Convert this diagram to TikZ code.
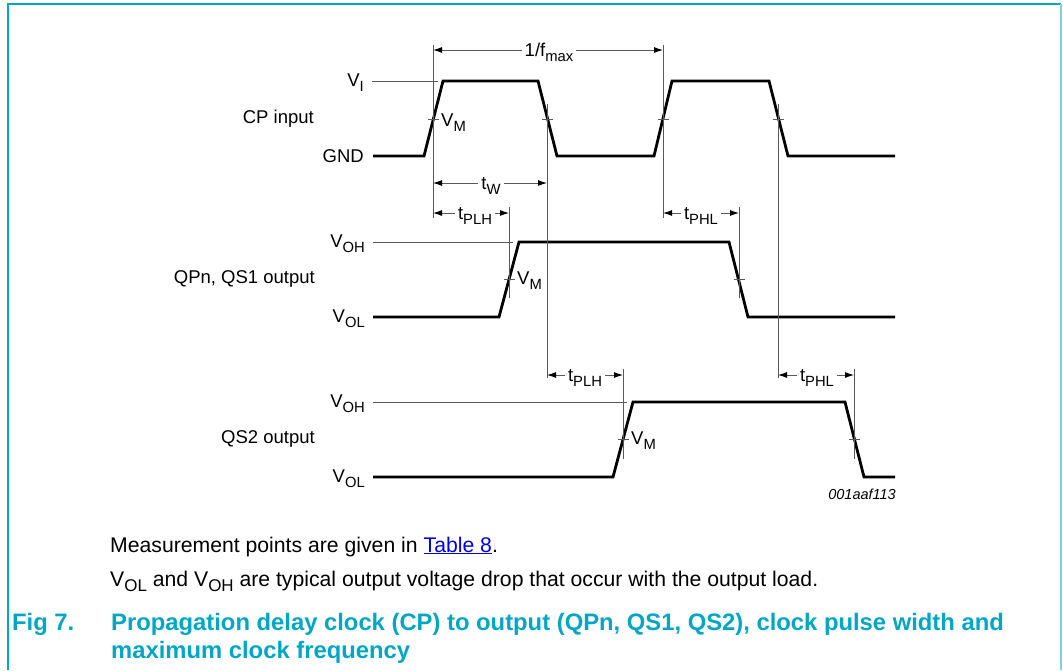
\documentclass[tikz,border=0pt]{standalone}
\usepackage{fontspec}
\setmainfont{Liberation Sans}
\usetikzlibrary{arrows.meta}
\definecolor{nxp}{RGB}{0,166,196}
\definecolor{nxplight}{RGB}{128,208,224}
\definecolor{refgray}{gray}{0.35}
\definecolor{linkblue}{RGB}{0,0,230}
\newcommand\sbs[1]{\raisebox{-0.24em}{\scalebox{0.8}{#1}}}
\begin{document}
\begin{tikzpicture}[x=1pt,y=-1pt,
  wave/.style={line width=2.8pt, line join=miter},
  refline/.style={refgray, line width=0.9pt},
  lbl/.style={font=\fontsize{18.5}{22}\selectfont, inner sep=0pt, text height=13.3pt, text depth=0pt},
  dl/.style={lbl, inner xsep=3pt},
  dimarrow/.style={refgray, line width=0.9pt, -{Latex[length=9pt,width=6pt,color=black]}},
  bodytext/.style={font=\fontsize{21.2}{25}\selectfont, inner sep=0pt, anchor=base west},
  captext/.style={font=\fontsize{23.8}{28}\selectfont\bfseries, text=nxp, inner sep=0pt, anchor=base west},
]
\useasboundingbox (0,0) rectangle (1063,670);
% frame
\draw[nxp, line width=2pt] (8,670) -- (8,4) -- (1061,4);
\draw[nxplight, line width=2pt] (1061,4) -- (1061,670);

% waveforms
\draw[wave] (373,156) -- (424,156) -- (443,81) -- (538,81) -- (557,156) -- (654,156) -- (672,81) -- (769,81) -- (788,156) -- (895,156);
\draw[wave] (373,317) -- (499,317) -- (519,242) -- (729,242) -- (748,317) -- (895,317);
\draw[wave] (373,477) -- (613,477) -- (633,402) -- (845,402) -- (864,477) -- (895,477);

% reference levels
\draw[refline] (372,81) -- (438,81);
\draw[refline] (373,242) -- (513,242);
\draw[refline] (373,402) -- (627,402);

% vertical bars
\draw[refline] (433,45) -- (433,218);
\draw[refline] (547,104) -- (547,378);
\draw[refline] (663,45) -- (663,218);
\draw[refline] (778,104) -- (778,378);
\draw[refline] (509,207) -- (509,298);
\draw[refline] (739,207) -- (739,298);
\draw[refline] (623,369) -- (623,459);
\draw[refline] (854,369) -- (854,459);

% VM ticks
\foreach \x/\y in {433/119,547/119,663/119,778/119,509/279,739/279,623/439,854/439}
  \draw[refline] (\x-5.5,\y) -- (\x+5.5,\y);

% dimension end points
\coordinate (fL) at (433,50);  \coordinate (fR) at (663,50);
\coordinate (wL) at (433,183); \coordinate (wR) at (547,183);
\coordinate (p1L) at (433,213); \coordinate (p1R) at (509,213);
\coordinate (h1L) at (663,213); \coordinate (h1R) at (739,213);
\coordinate (p2L) at (547,375); \coordinate (p2R) at (623,375);
\coordinate (h2L) at (778,375); \coordinate (h2R) at (854,375);

\node[dl] (fmax) at (549,50) {1/f\sbs{max}};
\node[dl] (tw) at (491,183) {t\sbs{W}};
\node[dl] (tplh1) at (475,213) {t\sbs{PLH}};
\node[dl] (tphl1) at (701,213) {t\sbs{PHL}};
\node[dl] (tplh2) at (585,375) {t\sbs{PLH}};
\node[dl] (tphl2) at (817,375) {t\sbs{PHL}};

\foreach \n/\l/\r in {fmax/fL/fR, tw/wL/wR, tplh1/p1L/p1R, tphl1/h1L/h1R, tplh2/p2L/p2R, tphl2/h2L/h2R}{
  \draw[dimarrow] (\n.west) -- (\l);
  \draw[dimarrow] (\n.east) -- (\r);
}

% left labels
\node[lbl, anchor=east] (cpin) at (314,117) {CP input};
\node[lbl, anchor=east] (qpn) at (315,277) {QPn, QS1 output};
\node[lbl, anchor=east] (qs2) at (315,437) {QS2 output};
\node[lbl, anchor=east] (vi) at (364,80) {V\sbs{I}};
\node[lbl, anchor=east] (gnd) at (364,156) {GND};
\node[lbl, anchor=east] (voh1) at (365,241) {V\sbs{OH}};
\node[lbl, anchor=east] (vol1) at (365,316) {V\sbs{OL}};
\node[lbl, anchor=east] (voh2) at (365,401) {V\sbs{OH}};
\node[lbl, anchor=east] (vol2) at (365,476) {V\sbs{OL}};

% VM labels
\node[lbl, anchor=west] (vm1) at (441,120) {V\sbs{M}};
\node[lbl, anchor=west] (vm2) at (517,278) {V\sbs{M}};
\node[lbl, anchor=west] (vm3) at (631,438) {V\sbs{M}};

\node[font=\fontsize{14.5}{16}\selectfont\itshape, inner sep=0pt, anchor=east] (code) at (896,494) {001aaf113};

% notes
\node[bodytext] (note1) at (110,552) {Measurement points are given in {\color{linkblue}\underline{Table 8}}.};
\node[bodytext] (note2) at (110,586) {V\sbs{OL} and V\sbs{OH} are typical output voltage drop that occur with the output load.};

% caption
\node[captext] (fig) at (12,630) {Fig 7.};
\node[captext] (cap1) at (111,630) {Propagation delay clock (CP) to output (QPn, QS1, QS2), clock pulse width and};
\node[captext] (cap2) at (111,658) {maximum clock frequency};
\end{tikzpicture}
\end{document}
